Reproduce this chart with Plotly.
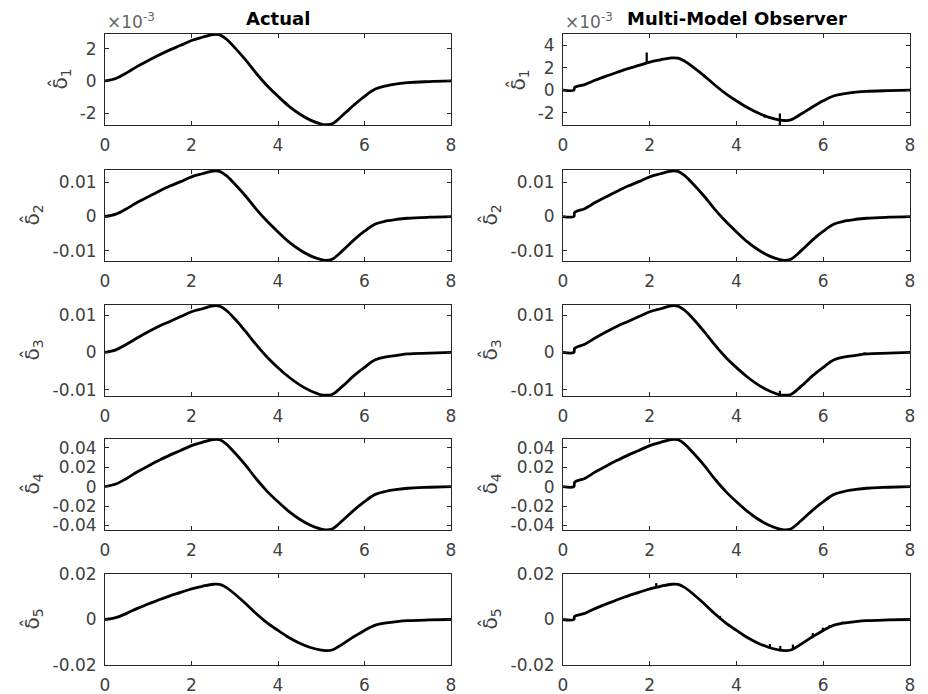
import plotly.graph_objects as go

# ---------------- data ----------------
t_actual = [0, 0.25, 0.5, 0.75, 1, 1.25, 1.5, 1.75, 2, 2.25, 2.5, 2.65, 2.8, 3, 3.25, 3.5,
            3.75, 4, 4.25, 4.5, 4.75, 5, 5.1, 5.25, 5.5, 5.75, 6, 6.25, 6.5, 6.75, 7, 7.5, 8]
t_observer = [0, 0.25, 0.27, 0.5, 0.75, 1, 1.25, 1.5, 1.75, 2, 2.25, 2.5, 2.65, 2.8, 3, 3.25, 3.5,
              3.75, 4, 4.25, 4.5, 4.75, 5, 5.1, 5.25, 5.5, 5.75, 6, 6.25, 6.5, 6.75, 7, 7.5, 8]

delta1_actual = [0, 0.00015, 0.0005, 0.0009, 0.00126, 0.0016, 0.00192, 0.0022, 0.0025, 0.0027, 0.00287,
                 0.00285, 0.0026, 0.00206, 0.0013, 0.00046, -0.0003, -0.00095, -0.00155, -0.00204,
                 -0.00242, -0.00266, -0.0027, -0.00265, -0.0021, -0.0015, -0.00095, -0.0005, -0.0003,
                 -0.00018, -0.0001, -0.00004, 0]
delta2_actual = [0, 0.0007, 0.0023, 0.00415, 0.0058, 0.0074, 0.0089, 0.0102, 0.0116, 0.0125, 0.0133,
                 0.0132, 0.012, 0.0095, 0.006, 0.0021, -0.0014, -0.0045, -0.0074, -0.0097, -0.0115,
                 -0.0126, -0.0128, -0.0125, -0.0099, -0.0069, -0.0043, -0.0022, -0.0013, -0.0008,
                 -0.0005, -0.0002, 0]
delta3_actual = [0, 0.00066, 0.0022, 0.0039, 0.0055, 0.007, 0.0083, 0.0096, 0.0109, 0.0117, 0.0125,
                 0.0124, 0.0113, 0.009, 0.0056, 0.002, -0.0013, -0.0041, -0.0066, -0.0087, -0.0103,
                 -0.0114, -0.0115, -0.0113, -0.009, -0.0063, -0.004, -0.002, -0.0012, -0.0008,
                 -0.0004, -0.0002, 0]
delta4_actual = [0, 0.0026, 0.0084, 0.0152, 0.0213, 0.027, 0.0324, 0.0372, 0.0422, 0.0456, 0.0485,
                 0.0482, 0.044, 0.0348, 0.022, 0.0078, -0.0049, -0.0157, -0.0255, -0.0336, -0.0398,
                 -0.0438, -0.0445, -0.0436, -0.0346, -0.0245, -0.0155, -0.008, -0.0048, -0.003,
                 -0.0017, -0.0007, 0]
delta5_actual = [0, 0.0008, 0.0027, 0.0049, 0.0068, 0.0087, 0.0104, 0.0119, 0.0135, 0.0146, 0.0155,
                 0.0154, 0.0141, 0.0112, 0.007, 0.0025, -0.0015, -0.0048, -0.0079, -0.0104, -0.0123,
                 -0.0135, -0.0137, -0.0134, -0.0107, -0.0076, -0.0048, -0.0025, -0.0015, -0.0009,
                 -0.0005, -0.0002, 0]

delta1_observer = [0, 0, 0.00025, 0.0005, 0.0009, 0.00126, 0.0016, 0.00192, 0.0022, 0.0025, 0.0027,
                   0.00287, 0.00285, 0.0026, 0.00206, 0.0013, 0.00046, -0.0003, -0.00095, -0.00155,
                   -0.00204, -0.00242, -0.00266, -0.0027, -0.00265, -0.0021, -0.0015, -0.00095,
                   -0.0005, -0.0003, -0.00018, -0.0001, -0.00004, 0]
delta2_observer = [0, 0, 0.0012, 0.0023, 0.00415, 0.0058, 0.0074, 0.0089, 0.0102, 0.0116, 0.0125,
                   0.0133, 0.0132, 0.012, 0.0095, 0.006, 0.0021, -0.0014, -0.0045, -0.0074, -0.0097,
                   -0.0115, -0.0126, -0.0128, -0.0125, -0.0099, -0.0069, -0.0043, -0.0022, -0.0013,
                   -0.0008, -0.0005, -0.0002, 0]
delta3_observer = [0, 0, 0.0011, 0.0022, 0.0039, 0.0055, 0.007, 0.0083, 0.0096, 0.0109, 0.0117,
                   0.0125, 0.0124, 0.0113, 0.009, 0.0056, 0.002, -0.0013, -0.0041, -0.0066, -0.0087,
                   -0.0103, -0.0114, -0.0115, -0.0113, -0.009, -0.0063, -0.004, -0.002, -0.0012,
                   -0.0008, -0.0004, -0.0002, 0]
delta4_observer = [0, 0, 0.0045, 0.0084, 0.0152, 0.0213, 0.027, 0.0324, 0.0372, 0.0422, 0.0456,
                   0.0485, 0.0482, 0.044, 0.0348, 0.022, 0.0078, -0.0049, -0.0157, -0.0255, -0.0336,
                   -0.0398, -0.0438, -0.0445, -0.0436, -0.0346, -0.0245, -0.0155, -0.008, -0.0048,
                   -0.003, -0.0017, -0.0007, 0]
delta5_observer = [0, 0, 0.0014, 0.0027, 0.0049, 0.0068, 0.0087, 0.0104, 0.0119, 0.0135, 0.0146,
                   0.0155, 0.0154, 0.0141, 0.0112, 0.007, 0.0025, -0.0015, -0.0048, -0.0079, -0.0104,
                   -0.0123, -0.0135, -0.0137, -0.0134, -0.0107, -0.0076, -0.0048, -0.0025, -0.0015,
                   -0.0009, -0.0005, -0.0002, 0]

# observer glitches (short vertical spikes)
spike1_t = [1.93, 4.65, 5.0]
spike1_lo = [0.00245, -0.00245, -0.0032]
spike1_hi = [0.00335, -0.0022, -0.00207]
spike3_t = [5.0, 6.95]
spike3_lo = [-0.0114, -0.0005]
spike3_hi = [-0.0103, 0.0]
spike5_t = [2.15, 3.62, 4.77, 5.01, 5.3, 5.76, 5.99, 6.15, 6.45]
spike5_lo = [0.0142, 0.0006, -0.0124, -0.0135, -0.0129, -0.0075, -0.0049, -0.0035, -0.0017]
spike5_hi = [0.016, 0.0016, -0.0108, -0.0116, -0.011, -0.006, -0.0036, -0.0024, -0.0009]

x_ticks = [0, 2, 4, 6, 8]
y_ticks_left = [
    ([-0.002, 0, 0.002], ["-2", "0", "2"]),
    ([-0.01, 0, 0.01], ["-0.01", "0", "0.01"]),
    ([-0.01, 0, 0.01], ["-0.01", "0", "0.01"]),
    ([-0.04, -0.02, 0, 0.02, 0.04], ["-0.04", "-0.02", "0", "0.02", "0.04"]),
    ([-0.02, 0, 0.02], ["-0.02", "0", "0.02"]),
]
y_ticks_right = [
    ([-0.002, 0, 0.002, 0.004], ["-2", "0", "2", "4"]),
    ([-0.01, 0, 0.01], ["-0.01", "0", "0.01"]),
    ([-0.01, 0, 0.01], ["-0.01", "0", "0.01"]),
    ([-0.04, -0.02, 0, 0.02, 0.04], ["-0.04", "-0.02", "0", "0.02", "0.04"]),
    ([-0.02, 0, 0.02], ["-0.02", "0", "0.02"]),
]
y_range_left = [[-0.00272, 0.0029], [-0.013, 0.0136], [-0.0117, 0.0127], [-0.0447, 0.049], [-0.02, 0.02]]
y_range_right = [[-0.0031, 0.005], [-0.013, 0.0136], [-0.0117, 0.0127], [-0.0447, 0.049], [-0.02, 0.02]]
y_labels = ["δ\u0302<sub>1</sub>", "δ\u0302<sub>2</sub>", "δ\u0302<sub>3</sub>",
            "δ\u0302<sub>4</sub>", "δ\u0302<sub>5</sub>"]
col_titles = ["Actual", "Multi-Model Observer"]

actual = [delta1_actual, delta2_actual, delta3_actual, delta4_actual, delta5_actual]
observer = [delta1_observer, delta2_observer, delta3_observer, delta4_observer, delta5_observer]
spikes = {0: (spike1_t, spike1_lo, spike1_hi), 2: (spike3_t, spike3_lo, spike3_hi),
          4: (spike5_t, spike5_lo, spike5_hi)}

# ---------------- layout geometry ----------------
# the page body adds an 8px offset, so the figure is 920x686 and coordinates are shifted by 8px
OFF = 8
W, H = 928 - OFF, 694 - OFF
x_px = [(105 - OFF, 451 - OFF), (563 - OFF, 910 - OFF)]
x_dom = [[a / W, b / W] for (a, b) in x_px]
row_px = [(34 - OFF, 125 - OFF), (170 - OFF, 261 - OFF), (305 - OFF, 396 - OFF),
          (439 - OFF, 530 - OFF), (574 - OFF, 665 - OFF)]
y_dom = [[1 - b / H, 1 - t / H] for (t, b) in row_px]
label_offset = [44, 72, 72, 72, 72]   # px left of the axis for the y label centre

FONT = "DejaVu Sans"
AX = "#262626"
TXT = "#404040"

fig = go.Figure()
layout = dict(width=W, height=H, margin=dict(l=0, r=0, t=0, b=0, pad=0, autoexpand=False),
              paper_bgcolor="white", plot_bgcolor="white", showlegend=False,
              font=dict(family=FONT, color=TXT))
annotations = []

for r in range(5):
    for c in range(2):
        i = r * 2 + c + 1
        xa, ya = ("x" if i == 1 else f"x{i}"), ("y" if i == 1 else f"y{i}")
        if c == 0:
            fig.add_trace(go.Scatter(x=t_actual, y=actual[r], mode="lines", xaxis=xa, yaxis=ya,
                                     line=dict(color="black", width=2.8, shape="spline")))
            tv, tt = y_ticks_left[r]
            yr = y_range_left[r]
        else:
            fig.add_trace(go.Scatter(x=t_observer, y=observer[r], mode="lines", xaxis=xa, yaxis=ya,
                                     line=dict(color="black", width=2.8, shape="spline")))
            if r in spikes:
                st, lo, hi = spikes[r]
                sx, sy = [], []
                for k in range(len(st)):
                    sx += [st[k], st[k], None]
                    sy += [lo[k], hi[k], None]
                fig.add_trace(go.Scatter(x=sx, y=sy, mode="lines", xaxis=xa, yaxis=ya,
                                         line=dict(color="black", width=2.2)))
            tv, tt = y_ticks_right[r]
            yr = y_range_right[r]
        common = dict(showline=True, linecolor=AX, linewidth=1, mirror="ticks", ticks="inside",
                      ticklen=4, tickcolor=AX, showgrid=False, zeroline=False, automargin=False,
                      tickfont=dict(family=FONT, size=17, color=TXT))
        layout["xaxis" + ("" if i == 1 else str(i))] = dict(
            domain=x_dom[c], anchor=ya, range=[0, 8], tickvals=x_ticks,
            ticktext=[str(v) for v in x_ticks], ticklabelstandoff=5, **common)
        layout["yaxis" + ("" if i == 1 else str(i))] = dict(
            domain=y_dom[r], anchor=xa, range=yr, tickvals=tv, ticktext=tt,
            ticklabelstandoff=4, **common)
        # y-axis label
        annotations.append(dict(text=y_labels[r], xref="paper", yref="paper",
                                x=(x_px[c][0] - label_offset[r]) / W,
                                y=(y_dom[r][0] + y_dom[r][1]) / 2,
                                xanchor="center", yanchor="middle", textangle=-90,
                                showarrow=False, font=dict(family=FONT, size=20, color=TXT)))

for c in range(2):
    annotations.append(dict(text="<b>" + col_titles[c] + "</b>", xref="paper", yref="paper",
                            x=(x_dom[c][0] + x_dom[c][1]) / 2, y=1 - (18 - OFF) / H,
                            xanchor="center", yanchor="middle", showarrow=False,
                            font=dict(family=FONT, size=18, color="black")))
    annotations.append(dict(text="×10<sup>-3</sup>", xref="paper", yref="paper",
                            x=x_dom[c][0], y=y_dom[0][1], xanchor="left", yanchor="bottom",
                            showarrow=False, font=dict(family=FONT, size=17, color="#666666")))

layout["annotations"] = annotations
fig.update_layout(**layout)
fig.write_html("out.html")
